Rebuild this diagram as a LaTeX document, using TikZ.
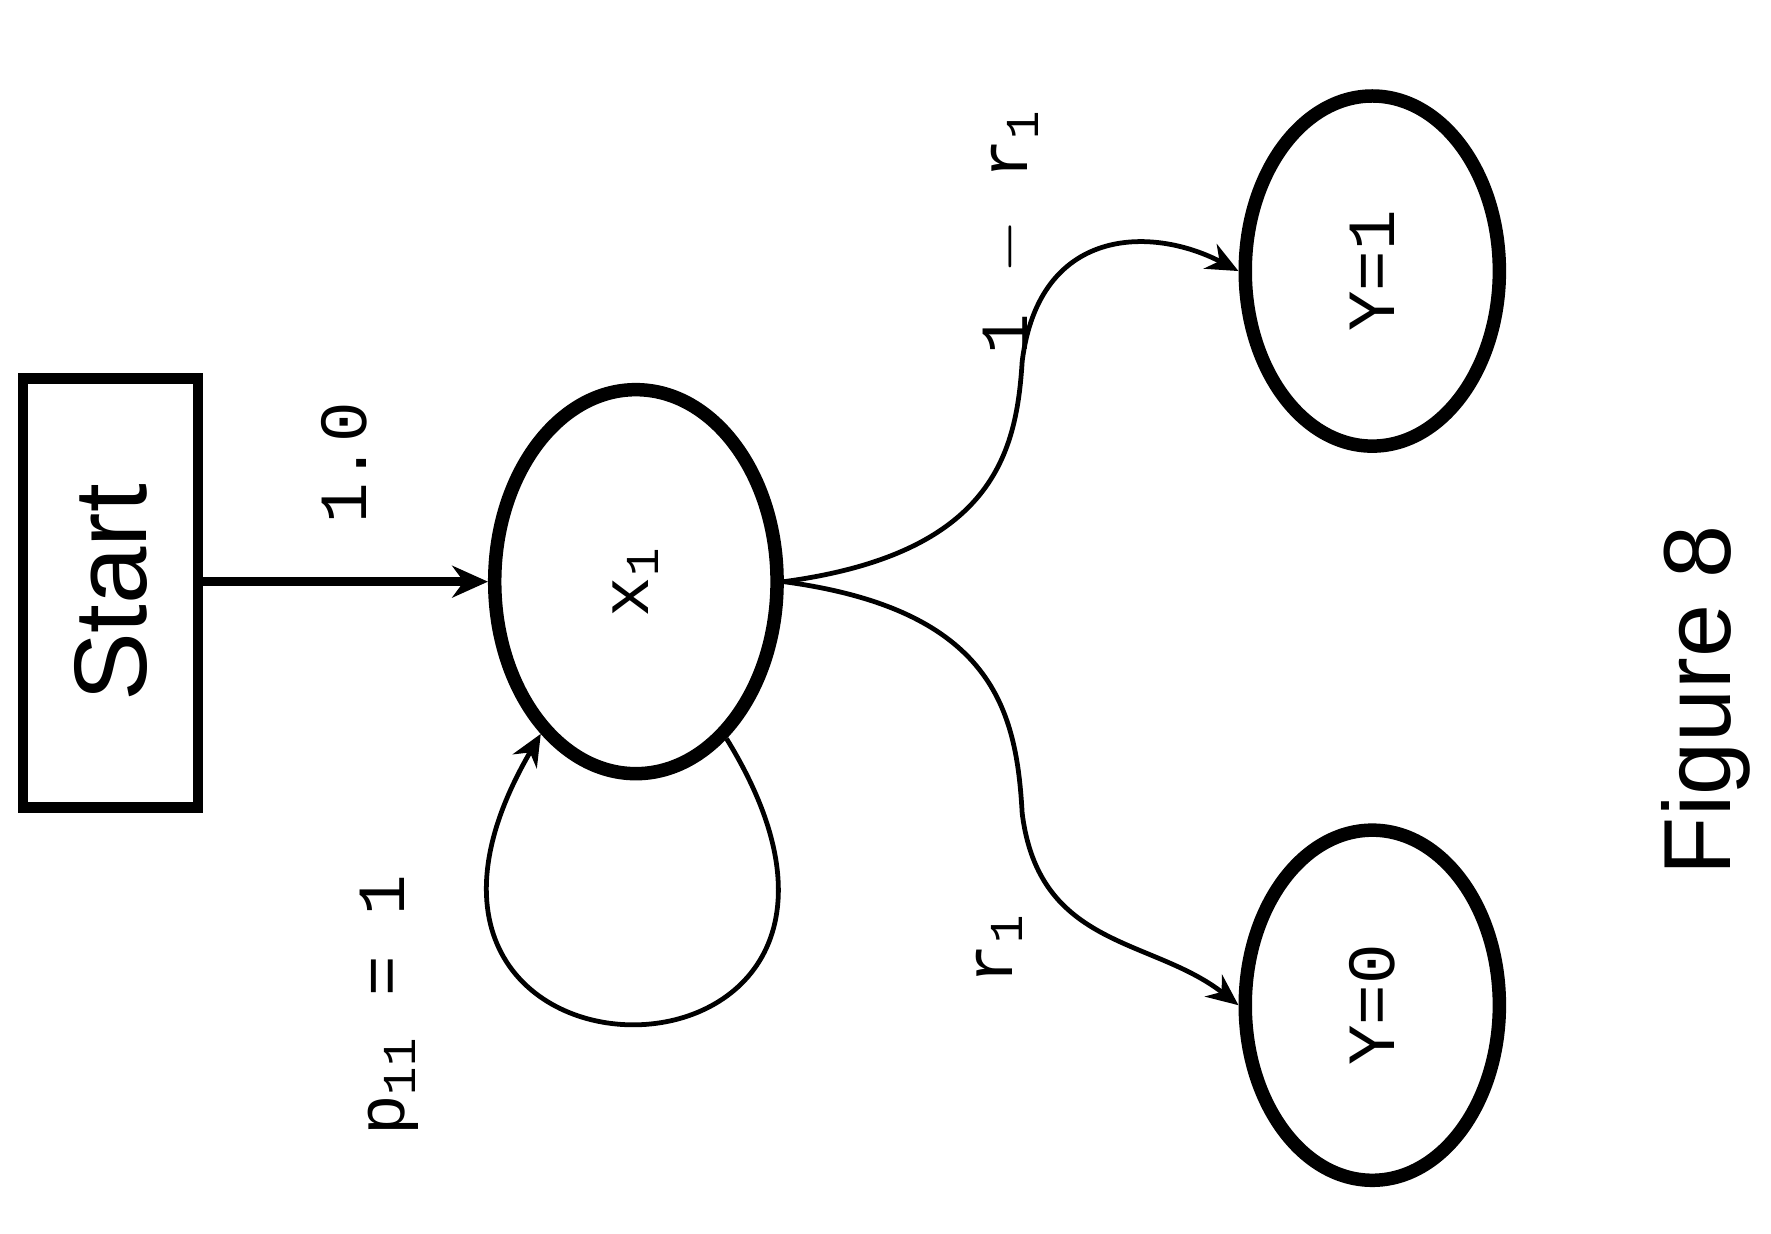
\documentclass[tikz,border=0pt]{standalone}
\usepackage{fontspec}
\setmainfont{Liberation Mono}
\setsansfont{Liberation Sans}
\usetikzlibrary{shapes.geometric,arrows.meta}
\tikzset{
	state/.style={draw,ellipse,line width=3.4pt,minimum width=2.5cm,minimum height=3.4cm,inner sep=0pt},
	ylabel/.style={rotate=90,font=\fontsize{17}{20}\selectfont},
	edge/.style={line width=1.2pt,-{Stealth[length=8pt,width=7pt]}}
}
\begin{document}
\begin{tikzpicture}[x=1cm,y=-1cm]

		\useasboundingbox (0,0) rectangle (15.68,10.92);

		% start box
		\node[draw,line width=2.6pt,minimum width=1.55cm,minimum height=3.8cm,inner sep=0pt] (start) at (0.98,5.25) {};
		\node[rotate=90,font=\sffamily\fontsize{26}{30}\selectfont] (starttext) at (0.98,5.25) {Start};

		% states
		\node[state] (x1) at (5.63,5.15) {};
		\node[ylabel] (x1text) at (5.63,5.15) {x\textsubscript{1}};
		\node[state,minimum width=2.25cm,minimum height=3.1cm] (y0) at (12.15,8.9) {};
		\node[ylabel] (y0text) at (12.15,8.9) {Y=0};
		\node[state,minimum width=2.25cm,minimum height=3.1cm] (y1) at (12.15,2.4) {};
		\node[ylabel] (y1text) at (12.15,2.4) {Y=1};

		% edges
		\draw[line width=2.2pt,-{Stealth[length=9pt,width=8pt]}] (start.east |- x1.west) -- (x1.west);
		\node[ylabel] (l10) at (3.05,4.1) {1.0};

		\draw[edge] (x1.-60) .. controls (8.5,9.9) and (2.8,9.9) .. (x1.-122);
		\node[ylabel] (lp) at (3.45,8.9) {p\textsubscript{11} = 1};

		\draw[edge] (x1.east) .. controls (8.8,5.4) and (9.0,6.3) .. (9.05,7.2)
			.. controls (9.2,8.4) and (10.2,8.3) .. (y0.west);
		\node[ylabel] (lr) at (8.85,8.4) {r\textsubscript{1}};

		\draw[edge] (x1.east) .. controls (8.8,4.9) and (9.0,4.0) .. (9.05,3.2)
			.. controls (9.2,2.0) and (10.2,2.0) .. (y1.west);
		\node[ylabel] (l1r) at (8.95,2.05) {1 $-$ r\textsubscript{1}};

		% caption
		\node[rotate=90,font=\sffamily\fontsize{24}{28}\selectfont] (fig) at (15.1,6.2) {Figure 8};

	\end{tikzpicture}
\end{document}
